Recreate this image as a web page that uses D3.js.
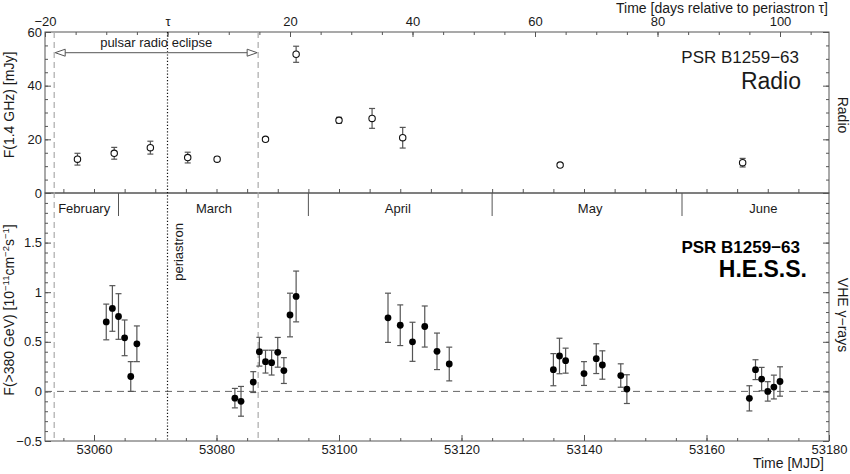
<!DOCTYPE html>
<html>
<head>
<meta charset="utf-8">
<script src="https://cdn.jsdelivr.net/npm/d3@7"></script>
<style>
  html, body { margin: 0; padding: 0; background: #fff; }
  svg { display: block; font-family: "Liberation Sans", Arial, Helvetica, sans-serif; }
</style>
</head>
<body>
<svg id="chart" width="850" height="474"></svg>
<script>
// ---------------- data ----------------
const periastronMJD = 53072;
const eclipseMJD = [53053.5, 53086.8];

const radioMJD  = [53057.3, 53063.3, 53069.2, 53075.3, 53080.1, 53088.0, 53093.0, 53100.0, 53105.4, 53110.4, 53136.1, 53165.9];
const radioFlux = [12.6, 14.8, 16.9, 13.2, 12.6, 20.0, 51.7, 27.1, 27.8, 20.6, 10.4, 11.3];
const radioErr  = [2.2, 2.2, 2.4, 2.0, 0.8, 0.5, 3.0, 1.1, 3.7, 3.85, 0.5, 1.6];

const hessMJD  = [53062, 53063, 53064, 53065, 53066, 53067,
                  53083, 53084, 53086, 53087, 53088, 53089, 53090, 53091, 53092, 53093,
                  53108, 53110, 53112, 53114, 53116, 53118,
                  53135, 53136, 53137, 53140, 53142, 53143, 53146, 53147,
                  53167, 53168, 53169, 53170, 53171, 53172];
const hessFlux = [0.70, 0.836, 0.755, 0.54, 0.15, 0.48,
                  -0.068, -0.10, 0.094, 0.40, 0.30, 0.29, 0.394, 0.21, 0.77, 0.957,
                  0.742, 0.667, 0.50, 0.654, 0.404, 0.276,
                  0.219, 0.357, 0.31, 0.18, 0.33, 0.266, 0.16, 0.023,
                  -0.07, 0.219, 0.124, 0.0, 0.044, 0.10];
const hessErr  = [0.18, 0.23, 0.23, 0.18, 0.15, 0.18,
                  0.098, 0.15, 0.105, 0.145, 0.115, 0.125, 0.15, 0.13, 0.22, 0.256,
                  0.248, 0.205, 0.197, 0.207, 0.184, 0.17,
                  0.162, 0.179, 0.126, 0.12, 0.15, 0.143, 0.118, 0.145,
                  0.127, 0.10, 0.118, 0.098, 0.12, 0.148];

const monthNames    = ["February", "March", "April", "May", "June"];
const monthLabelMJD = [53058.4, 53079.6, 53109.6, 53141.0, 53169.3];
const monthBounds   = [53064, 53095, 53125, 53156];

const mjdMajorTicks   = [53060, 53080, 53100, 53120, 53140, 53160, 53180];
const relMajorTicks   = [-20, 0, 20, 40, 60, 80, 100];
const radioMajorTicks = [0, 20, 40, 60];
const hessMajorTicks  = [-0.5, 0, 0.5, 1, 1.5];

// ---------------- layout ----------------
const L = 45, R = 829, T = 32, MID = 193, B = 441;
const svg = d3.select("#chart");
const frameColor = "#555", textColor = "#1a1a1a";

const x = d3.scaleLinear().domain([53052, 53180]).range([L, R]);
const xRel = d3.scaleLinear().domain([53052 - periastronMJD, 53180 - periastronMJD]).range([L, R]);
const yR = d3.scaleLinear().domain([0, 60]).range([MID, T]);
const yH = d3.scaleLinear().domain([-0.5, 2.0]).range([B, MID]);

const mjdMinor = d3.range(53055, 53180, 5);
const relMinor = d3.range(-15, 108, 5);
const radioMinor = d3.range(0, 60.01, 5);
const hessMinor = d3.range(-0.5, 2.0001, 0.1).map(v => Math.round(v * 10) / 10);

const minus = s => String(s).replace("-", "\u2212");

function styleAxis(g, fs) {
  g.select(".domain").remove();
  g.selectAll(".tick line").attr("stroke", frameColor).attr("stroke-width", 1);
  g.selectAll(".tick text").attr("fill", textColor).attr("font-size", fs || 13);
}

function addAxis(axisGen, transform) {
  const g = svg.append("g").attr("transform", transform).call(axisGen);
  styleAxis(g);
  return g;
}

// bottom axis (MJD)
addAxis(d3.axisBottom(x).tickValues(mjdMinor).tickSize(-3).tickFormat(""), `translate(0,${B})`);
addAxis(d3.axisBottom(x).tickValues(mjdMajorTicks).tickSize(-6).tickPadding(4).tickFormat(d3.format("d")), `translate(0,${B})`);
// top panel bottom edge MJD ticks
addAxis(d3.axisBottom(x).tickValues(mjdMinor).tickSize(-4).tickFormat(""), `translate(0,${MID})`);
// top axis (relative days)
addAxis(d3.axisTop(xRel).tickValues(relMinor).tickSize(-3).tickFormat(""), `translate(0,${T})`);
addAxis(d3.axisTop(xRel).tickValues(relMajorTicks).tickSize(-5).tickPadding(6)
  .tickFormat(d => d === 0 ? "\u03C4" : minus(d)), `translate(0,${T})`);
// left axes
addAxis(d3.axisLeft(yR).tickValues(radioMinor).tickSize(-3).tickFormat(""), `translate(${L},0)`);
addAxis(d3.axisLeft(yR).tickValues(radioMajorTicks).tickSize(-6).tickPadding(3).tickFormat(d => d), `translate(${L},0)`);
addAxis(d3.axisLeft(yH).tickValues(hessMinor).tickSize(-3).tickFormat(""), `translate(${L},0)`);
addAxis(d3.axisLeft(yH).tickValues(hessMajorTicks).tickSize(-6).tickPadding(3).tickFormat(d => minus(d)), `translate(${L},0)`);
// right axes
addAxis(d3.axisRight(yR).tickValues(radioMinor).tickSize(-3).tickFormat(""), `translate(${R},0)`);
addAxis(d3.axisRight(yR).tickValues(radioMajorTicks).tickSize(-6).tickFormat(""), `translate(${R},0)`);
addAxis(d3.axisRight(yH).tickValues(hessMinor).tickSize(-3).tickFormat(""), `translate(${R},0)`);
addAxis(d3.axisRight(yH).tickValues(hessMajorTicks).tickSize(-6).tickFormat(""), `translate(${R},0)`);

// frames
svg.append("rect").attr("x", L).attr("y", T).attr("width", R - L).attr("height", MID - T)
  .attr("fill", "none").attr("stroke", frameColor).attr("stroke-width", 1);
svg.append("rect").attr("x", L).attr("y", MID).attr("width", R - L).attr("height", B - MID)
  .attr("fill", "none").attr("stroke", frameColor).attr("stroke-width", 1);

// month dividers and labels
svg.append("g").selectAll("line").data(monthBounds).join("line")
  .attr("x1", d => x(d)).attr("x2", d => x(d)).attr("y1", MID).attr("y2", MID + 23)
  .attr("stroke", frameColor).attr("stroke-width", 1);
svg.append("g").selectAll("text").data(monthNames).join("text")
  .attr("x", (d, i) => x(monthLabelMJD[i])).attr("y", MID + 20)
  .attr("text-anchor", "middle").attr("font-size", 13).attr("fill", textColor).text(d => d);

// zero line
svg.append("line").attr("x1", L).attr("x2", R).attr("y1", yH(0)).attr("y2", yH(0))
  .attr("stroke", "#666").attr("stroke-width", 1).attr("stroke-dasharray", "7,5");

// eclipse dashed lines
svg.append("g").selectAll("line").data(eclipseMJD).join("line")
  .attr("x1", d => x(d)).attr("x2", d => x(d)).attr("y1", T).attr("y2", B)
  .attr("stroke", "#aaa").attr("stroke-width", 1.2).attr("stroke-dasharray", "6,4");

// periastron dotted line
svg.append("line").attr("x1", x(periastronMJD)).attr("x2", x(periastronMJD)).attr("y1", T).attr("y2", B)
  .attr("stroke", "#111").attr("stroke-width", 1.2).attr("stroke-dasharray", "1.2,2");
svg.append("text").attr("transform", `translate(${x(periastronMJD) + 15},223) rotate(-90)`)
  .attr("text-anchor", "end").attr("font-size", 13).attr("fill", textColor).text("periastron");

// eclipse arrow
const arrowY = 52.7;
const ax1 = x(eclipseMJD[0]) + 1, ax2 = x(eclipseMJD[1]) - 1;
svg.append("line").attr("x1", ax1 + 9).attr("x2", ax2 - 9).attr("y1", arrowY).attr("y2", arrowY)
  .attr("stroke", "#777").attr("stroke-width", 1.2);
svg.append("path").attr("d", `M${ax1},${arrowY} L${ax1 + 10},${arrowY - 3.5} L${ax1 + 10},${arrowY + 3.5} Z`)
  .attr("fill", "#fff").attr("stroke", "#555").attr("stroke-width", 1);
svg.append("path").attr("d", `M${ax2},${arrowY} L${ax2 - 10},${arrowY - 3.5} L${ax2 - 10},${arrowY + 3.5} Z`)
  .attr("fill", "#fff").attr("stroke", "#555").attr("stroke-width", 1);
svg.append("text").attr("x", (ax1 + ax2) / 2).attr("y", 47).attr("text-anchor", "middle")
  .attr("font-size", 13).attr("fill", textColor).text("pulsar radio eclipse");

// error bars helper
function errorBars(xs, ys, es, yScale, color) {
  const g = svg.append("g");
  const cap = 3;
  xs.forEach((m, i) => {
    const cx = x(m), y1 = yScale(ys[i] - es[i]), y2 = yScale(ys[i] + es[i]);
    g.append("line").attr("x1", cx).attr("x2", cx).attr("y1", y1).attr("y2", y2)
      .attr("stroke", color).attr("stroke-width", 1.2);
    [y1, y2].forEach(yy => g.append("line").attr("x1", cx - cap).attr("x2", cx + cap)
      .attr("y1", yy).attr("y2", yy).attr("stroke", color).attr("stroke-width", 1.2));
  });
}

// radio data
errorBars(radioMJD, radioFlux, radioErr, yR, "#555");
svg.append("g").selectAll("circle").data(radioMJD).join("circle")
  .attr("cx", d => x(d)).attr("cy", (d, i) => yR(radioFlux[i])).attr("r", 3.2)
  .attr("fill", "#fff").attr("stroke", "#111").attr("stroke-width", 1.1);

// HESS data
errorBars(hessMJD, hessFlux, hessErr, yH, "#555");
svg.append("g").selectAll("circle").data(hessMJD).join("circle")
  .attr("cx", d => x(d)).attr("cy", (d, i) => yH(hessFlux[i])).attr("r", 3.4)
  .attr("fill", "#000");

// panel titles
svg.append("text").attr("x", 799).attr("y", 63).attr("text-anchor", "end")
  .attr("font-size", 17).attr("fill", textColor).text("PSR B1259\u221263");
svg.append("text").attr("x", 801).attr("y", 89).attr("text-anchor", "end")
  .attr("font-size", 23).attr("fill", textColor).text("Radio");
svg.append("text").attr("x", 800).attr("y", 253).attr("text-anchor", "end")
  .attr("font-size", 17).attr("font-weight", "bold").attr("fill", "#000").text("PSR B1259\u221263");
svg.append("text").attr("x", 807).attr("y", 277).attr("text-anchor", "end")
  .attr("font-size", 23).attr("font-weight", "bold").attr("fill", "#000").text("H.E.S.S.");

// right side labels
svg.append("text").attr("transform", "translate(838,115) rotate(90)")
  .attr("text-anchor", "middle").attr("font-size", 14).attr("fill", textColor).text("Radio");
svg.append("text").attr("transform", "translate(838,315) rotate(90)")
  .attr("text-anchor", "middle").attr("font-size", 14).attr("fill", textColor).text("VHE \u03B3\u2212rays");

// left axis titles
svg.append("text").attr("transform", "translate(14,105) rotate(-90)")
  .attr("text-anchor", "middle").attr("font-size", 14).attr("fill", textColor).text("F(1.4 GHz) [mJy]");
const ht = svg.append("text").attr("transform", "translate(14,310) rotate(-90)")
  .attr("text-anchor", "middle").attr("font-size", 14).attr("fill", textColor);
ht.append("tspan").text("F(>380 GeV) [10");
ht.append("tspan").attr("font-size", 9.5).attr("dy", -5).text("\u221211");
ht.append("tspan").attr("dy", 5).text("cm");
ht.append("tspan").attr("font-size", 9.5).attr("dy", -5).text("\u22122");
ht.append("tspan").attr("dy", 5).text("s");
ht.append("tspan").attr("font-size", 9.5).attr("dy", -5).text("\u22121");
ht.append("tspan").attr("dy", 5).text("]");

// axis titles
svg.append("text").attr("x", 824).attr("y", 468).attr("text-anchor", "end")
  .attr("font-size", 14).attr("fill", textColor).text("Time [MJD]");
svg.append("text").attr("x", 828).attr("y", 12.5).attr("text-anchor", "end")
  .attr("font-size", 14).attr("fill", textColor).text("Time [days relative to periastron \u03C4]");
</script>
</body>
</html>
